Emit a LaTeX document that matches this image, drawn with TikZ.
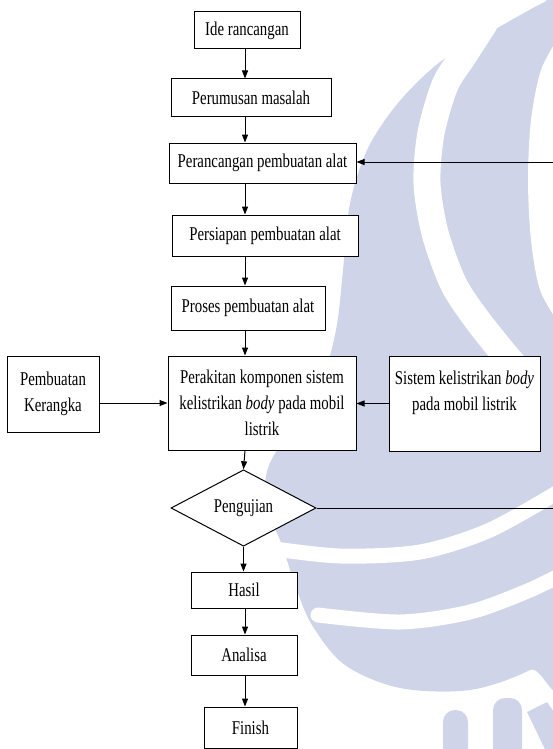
\documentclass[tikz,border=0pt]{standalone}
\usepackage{fontspec}
\setmainfont{Liberation Serif}[FakeStretch=0.76]
\usetikzlibrary{shapes.geometric,arrows.meta}
\definecolor{wmcol}{RGB}{207,212,232}
\tikzset{
  box/.style={draw, fill=white, line width=1pt, inner sep=0pt, align=center,
    font=\fontsize{19.5}{26}\selectfont},
  decision/.style={diamond, draw, fill=white, line width=1pt, inner sep=0pt,
    font=\fontsize{19.5}{26}\selectfont},
  arr/.style={line width=1pt, -{Triangle[length=8pt,width=6pt]}},
  link/.style={line width=1pt},
  wmgap/.style={white, line cap=round}
}
\begin{document}
\begin{tikzpicture}[x=1pt,y=-1pt]
\useasboundingbox (0,0) rectangle (553,749);
% background watermark
\begin{scope}
\clip (0,0) rectangle (553,749);
\fill[wmcol] plot[smooth cycle, tension=0.55] coordinates {(450,55) (480,38) (515,18) (545,2) (570,-5) (570,640) (530,670) (470,690) (400,688) (345,665) (312,625) (295,585) (282,545) (266,505) (268,468) (290,430) (320,385) (336,330) (343,270) (348,215) (356,180) (368,148) (385,120) (405,95) (428,72)};
\draw[wmgap, line width=27pt] plot[smooth] coordinates {(484,24) (462,58) (445,85) (431,133) (427,183) (435,233) (453,283) (475,317) (501,350) (525,378)};
\fill[white] plot[smooth] coordinates {(560,35) (541,70) (531,120) (528,180) (531,240) (540,290) (560,325)} -- cycle;
\draw[wmgap, line width=15pt] plot[smooth] coordinates {(268,548) (340,556) (420,552) (490,530) (565,488)};
\draw[wmgap, line width=15pt] plot[smooth] coordinates {(318,615) (400,622) (470,612) (530,590) (570,570)};
\fill[wmcol, rounded corners=12pt] (443,710) rectangle (468,770);
\fill[wmcol, rounded corners=12pt] (493,698) rectangle (522,770);
\fill[wmcol] (527,712) -- (547,702) -- (570,735) -- (570,770) -- (555,770) -- cycle;
\end{scope}
% nodes
\coordinate (X) at (245,0);
\node[box, minimum width=106pt, minimum height=37pt] (ide) at (247,30.5) {Ide rancangan};
\node[box, minimum width=160pt, minimum height=38pt] (rum) at (251,98) {Perumusan masalah};
\node[box, minimum width=187pt, minimum height=40pt] (ranc) at (262.5,163) {Perancangan pembuatan alat};
\node[box, minimum width=186pt, minimum height=41pt] (siap) at (265,235.5) {Persiapan pembuatan alat};
\node[box, minimum width=154pt, minimum height=44pt] (proses) at (248,308) {Proses pembuatan alat};
\node[box, minimum width=188pt, minimum height=94pt] (rakit) at (262,403) {Perakitan komponen sistem\\kelistrikan \textit{body} pada mobil\\listrik};
\node[box, minimum width=92pt, minimum height=76pt] (rangka) at (53,394) {Pembuatan\\Kerangka};
\node[box, minimum width=151pt, minimum height=95pt] (sistem) at (464.5,403.5) {Sistem kelistrikan \textit{body}\\pada mobil listrik\\\mbox{}};
\node[decision, minimum width=145pt, minimum height=68pt] (uji) at (243.5,508) {Pengujian};
\node[box, minimum width=106pt, minimum height=36pt] (hasil) at (244,590) {Hasil};
\node[box, minimum width=106pt, minimum height=40pt] (analisa) at (244,655) {Analisa};
\node[box, minimum width=93pt, minimum height=41pt] (finish) at (250.5,727.5) {Finish};
\coordinate (fbtop) at (553,162);
\coordinate (fbbot) at (553,508);
% connectors
\draw[arr] (ide.south -| X) -- (rum.north -| X);
\draw[arr] (rum.south -| X) -- (ranc.north -| X);
\draw[arr] (ranc.south -| X) -- (siap.north -| X);
\draw[arr] (siap.south -| X) -- (proses.north -| X);
\draw[arr] (proses.south -| X) -- (rakit.north -| X);
\draw[arr] (rakit.south -| X) -- (uji.north);
\draw[arr] (uji.south) -- (hasil.north -| uji.south);
\draw[arr] (hasil.south -| X) -- (analisa.north -| X);
\draw[arr] (analisa.south -| X) -- (finish.north -| X);
\draw[arr] (rangka.east |- rakit.west) -- (rakit.west);
\draw[arr] (sistem.west) -- (rakit.east |- sistem.west);
\draw[link] (uji.east) -- (fbbot);
\draw[arr] (fbtop) -- (ranc.east |- fbtop);
\end{tikzpicture}
\end{document}
